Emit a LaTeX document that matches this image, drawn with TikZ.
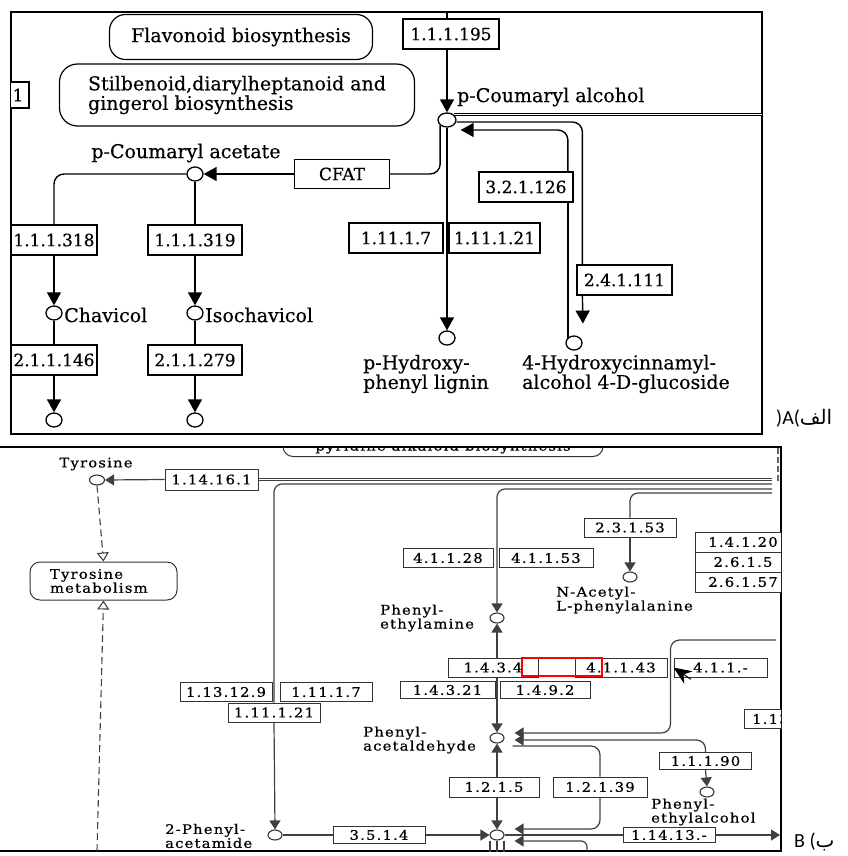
\documentclass[tikz,border=0pt]{standalone}
\usepackage{fontspec}
\setmainfont{DejaVu Serif}
\newfontfamily\keggfont{DejaVu Serif}[FakeBold=0.4]
\newfontfamily\smallkegg{DejaVu Serif}[FakeStretch=1.12,LetterSpace=9,FakeBold=0.6]
\newfontfamily\arabicfont[Script=Arabic]{DejaVu Sans}
\newfontfamily\tagfont{Carlito}
\TeXXeTstate=1
\usetikzlibrary{positioning, arrows.meta, shapes.geometric, calc}

\newcommand{\cpdfontA}{\keggfont\fontsize{19}{18}\selectfont}
\newcommand{\ecfontA}{\keggfont\fontsize{17}{17}\selectfont}
\newcommand{\cpdfontB}{\smallkegg\fontsize{13.2}{12}\selectfont}

\begin{document}
\begin{tikzpicture}[x=1pt, y=-1pt,
  ecA/.style = {draw, line width=1.2pt, fill=white, minimum width=94pt,
                minimum height=30pt, inner sep=1pt, font=\ecfontA},
  ecB/.style = {draw=black!80, line width=1pt, fill=white, minimum width=92pt,
                minimum height=19pt, inner sep=1pt, font=\cpdfontB},
  pwA/.style = {draw, line width=1.2pt, rounded corners=16pt, inner sep=0pt, font=\cpdfontA},
  pwB/.style = {draw=black!80, line width=1pt, rounded corners=10pt, inner sep=0pt,
                align=left, font=\cpdfontB},
  cpdA/.style = {draw, ellipse, line width=1.3pt, fill=white, minimum width=16pt,
                 minimum height=14pt, inner sep=0pt},
  cpdB/.style = {draw=black!80, ellipse, line width=1.1pt, fill=white, minimum width=14pt,
                 minimum height=10pt, inner sep=0pt},
  lblA/.style = {inner sep=0pt, align=left, font=\cpdfontA},
  lblB/.style = {inner sep=0pt, align=left, font=\cpdfontB},
  lnA/.style = {line width=1.4pt},
  arrA/.style = {lnA, -{Triangle[length=13pt, width=14pt]}},
  lnB/.style = {draw=black!75, line width=1.2pt},
  arrB/.style = {lnB, -{Triangle[length=9pt, width=11pt]}},
  dashB/.style = {draw=black!75, line width=1.1pt, dash pattern=on 7pt off 4pt,
                  -{Triangle[open, length=9pt, width=12pt]}},
]
\useasboundingbox (0,0) rectangle (847,856);

% ---- panel A ----
\draw[line width=1.3pt] (11,12) rectangle (762,434);
\begin{scope}
  \clip (11,12) rectangle (762,434);
  \node[pwA, minimum width=263pt, minimum height=45pt] (flav) at (241,37) {Flavonoid biosynthesis};
  \node[pwA, minimum width=355pt, minimum height=62pt, rounded corners=18pt, align=left]
    (stil) at (237,95) {Stilbenoid,diarylheptanoid and\\gingerol biosynthesis};
  \node[ecA, minimum width=22pt, minimum height=26pt] (econe) at (18,95) {1};
\end{scope}

\node[ecA, minimum width=96pt] (e195) at (451,34) {1.1.1.195};
\node[cpdA, minimum width=18pt, minimum height=14pt] (pca) at (447,120) {};
\node[lblA, anchor=west] (pcalbl) at (457,97) {p-Coumaryl alcohol};
\node[ecA, minimum width=95pt, minimum height=29pt] (cfat) at (342,174) {CFAT};
\node[cpdA] (pcac) at (195,174) {};
\node[lblA] (pcaclbl) at (186,153) {p-Coumaryl acetate};
\node[ecA, minimum width=86pt] (e318) at (54,240) {1.1.1.318};
\node[ecA] (e319) at (195,240) {1.1.1.319};
\node[cpdA] (chv) at (54,313) {};
\node[lblA, anchor=west] (chvlbl) at (64,315) {Chavicol};
\node[cpdA] (ichv) at (195,313) {};
\node[lblA, anchor=west] (ichvlbl) at (205,315) {Isochavicol};
\node[ecA, minimum width=86pt] (e2146) at (54,360) {2.1.1.146};
\node[ecA] (e2279) at (195,360) {2.1.1.279};
\node[cpdA] (chvnx) at (54,420) {};
\node[cpdA] (ichvnx) at (195,420) {};
\node[ecA] (e32) at (526,187) {3.2.1.126};
\node[ecA] (e11117) at (396,238) {1.11.1.7};
\node[ecA, minimum width=91pt] (e11121) at (494.5,238) {1.11.1.21};
\node[ecA, minimum width=95pt] (e2411) at (624.5,280) {2.4.1.111};
\node[cpdA] (phl) at (447,338) {};
\node[lblA, anchor=west] (phllbl) at (363,374) {p-Hydroxy-\\phenyl lignin};
\node[cpdA] (hcg) at (574,343) {};
\node[lblA, anchor=west] (hcglbl) at (522,374) {4-Hydroxycinnamyl-\\alcohol 4-D-glucoside};

\coordinate (inA) at (447,12);
\coordinate (outA) at (762,115);
\draw[lnA] (inA) -- (inA |- e195.north);
\draw[arrA] (e195.south -| pca) -- (pca);
\draw[line width=0.9pt, double, double distance=1.6pt] (pca.north east) -- (pca.north east -| outA);
\draw[lnA, rounded corners=10pt] ($(pca.east)+(0,2)$) -| ($(e2411.north west)+(6,0)$);
\draw[arrA, shorten >=10pt] ($(e2411.south west)+(6,0)$) -- ($(hcg.north east)+(3,-4)$);
\draw[lnA] (hcg.north west) -- (hcg.north west |- e32.south);
\draw[arrA, rounded corners=10pt] (hcg.north west |- e32.north) |- ($(pca.east)+(4,10)$);
\draw[lnA, rounded corners=10pt] (pca.south west) |- (cfat.east);
\draw[arrA] (cfat.west) -- (pcac.east);
\draw[lnA, rounded corners=10pt] (pcac.west) -| (e318.north);
\draw[lnA] (pcac.south) -- (e319.north);
\draw[arrA] (e318.south) -- (chv.north);
\draw[arrA] (e319.south) -- (ichv.north);
\draw[lnA] (chv.south) -- (e2146.north);
\draw[lnA] (ichv.south) -- (e2279.north);
\draw[arrA] (e2146.south) -- (chvnx.north);
\draw[arrA] (e2279.south) -- (ichvnx.north);
\draw[arrA] (pca.south) -- (phl.north);

\node[font=\tagfont\fontsize{20}{20}\selectfont, anchor=west, inner sep=0pt] (tagA) at (776,418)
  {)A({\arabicfont\beginR الف\endR}};

% ---- panel B ----
\draw[line width=1.3pt] (0,447) -- (781,447) -- (781,851) -- (0,851);
\begin{scope}
  \clip (0,447) rectangle (781,851);
  \node[pwB, minimum width=320pt, inner ysep=3pt, anchor=south] (tropane) at (443,457)
    {Tropane, piperidine and\\pyridine alkaloid biosynthesis};
  \node[ecB, minimum width=93pt, minimum height=21pt] (e114161) at (211.5,479.5) {1.14.16.1};
  \node[cpdB, minimum width=15pt] (tyr) at (97,480) {};
  \node[lblB] (tyrlbl) at (96,464) {Tyrosine};
  \node[pwB, minimum width=147pt, minimum height=38pt, text width=107pt] (tyrmet) at (103.5,581)
    {Tyrosine\\metabolism};
  \node[ecB] (e113129) at (226,692) {1.13.12.9};
  \node[ecB] (e11117b) at (326,692) {1.11.1.7};
  \node[ecB] (e11121b) at (274,712.5) {1.11.1.21};
  \node[cpdB] (pacm) at (275,835) {};
  \node[lblB, anchor=west] (pacmlbl) at (165,836) {2-Phenyl-\\acetamide};
  \node[ecB, minimum height=17pt] (e3514) at (379,835) {3.5.1.4};
  \node[cpdB] (pac) at (497,835) {};
  \node[ecB, minimum width=90pt] (e41128) at (448,558) {4.1.1.28};
  \node[ecB, minimum width=94pt] (e41153) at (546,558) {4.1.1.53};
  \node[cpdB] (pea) at (497,618) {};
  \node[lblB, anchor=west] (pealbl) at (380,618) {Phenyl-\\ethylamine};
  \node[ecB] (e23153) at (630,527.5) {2.3.1.53};
  \node[cpdB] (nac) at (630,577) {};
  \node[lblB, anchor=west] (naclbl) at (556,600) {N-Acetyl-\\L-phenylalanine};
  \node[ecB, minimum width=96pt, minimum height=20pt] (e14120) at (743,542) {1.4.1.20};
  \node[ecB, minimum width=96pt, minimum height=20pt] (e2615) at (743,562) {2.6.1.5};
  \node[ecB, minimum width=96pt, minimum height=20pt] (e26157) at (743,582) {2.6.1.57};
  \node[ecB, minimum width=90pt] (e1434) at (493,667.5) {1.4.3.4};
  \node[ecB] (e41143) at (621,667.5) {4.1.1.43};
  \node[ecB, minimum width=93pt] (e411x) at (720.5,667.5) {4.1.1.-};
  \node[ecB, minimum width=95pt, minimum height=17pt] (e14321) at (447.5,690) {1.4.3.21};
  \node[ecB, minimum width=90pt, minimum height=17pt] (e1492) at (545,690) {1.4.9.2};
  \node[ecB] (e113x) at (790,719) {1.13.12.-};
  \node[cpdB] (paa) at (497,738) {};
  \node[lblB, anchor=west] (paalbl) at (363,740) {Phenyl-\\acetaldehyde};
  \node[ecB, minimum height=17pt] (e11190) at (705.5,761) {1.1.1.90};
  \node[cpdB] (pet) at (707,792) {};
  \node[lblB, anchor=west] (petlbl) at (651,812) {Phenyl-\\ethylalcohol};
  \node[ecB, minimum width=90pt, minimum height=20pt] (e1215) at (494,787) {1.2.1.5};
  \node[ecB, minimum width=94pt, minimum height=20pt] (e12139) at (600,787) {1.2.1.39};
  \node[ecB, minimum height=15pt] (e11413) at (669,835) {1.14.13.-};

  \coordinate (rtB477) at (772,479);
  \coordinate (rtB484) at (772,484);
  \coordinate (rtB489) at (772,489);
  \coordinate (rtB493) at (772,493);
  \coordinate (rtB640) at (776,640);
  \coordinate (btB97) at (97,851);
  \coordinate (btB587) at (587,851);
  \coordinate (outB) at (780,835);
  \coordinate (v672) at ($(e411x.west)+(-3,0)$);
  \coordinate (paaIn1) at ($(paa.east)+(0,-5)$);
  \coordinate (paaIn2) at ($(paa.east)+(0,2)$);
  \coordinate (paaOut) at ($(paa.east)+(8,8)$);
  \coordinate (pacIn1) at ($(pac.east)+(0,-6)$);
  \coordinate (pacIn2) at ($(pac.east)+(0,6)$);

  \draw[draw=black!75, line width=0.9pt, double, double distance=1.4pt] (e114161.east) -- (e114161.east -| rtB477);
  \draw[arrB] (e114161.west) -- (tyr.east);
  \draw[dashB] (tyr.south) -- (tyrmet.north);
  \draw[dashB] (btB97) -- (tyrmet.south);
  \draw[lnB, rounded corners=8pt] (rtB484) -| (e11121b.north);
  \draw[arrB] (e11121b.south) -- (pacm.north);
  \draw[lnB] (pacm.east) -- (e3514.west);
  \draw[arrB] (e3514.east) -- (pac.west);
  \draw[arrB, rounded corners=8pt] (rtB489) -| (pea.north);
  \draw[lnB, rounded corners=8pt] (rtB493) -| (e23153.north);
  \draw[arrB] (e23153.south) -- (nac.north);
  \draw[lnB, {Triangle[length=9pt, width=11pt]}-] (pea.south) -- (pea.south |- e1434.north);
  \draw[arrB] (pea.south |- e1434.south) -- (paa.north);
  \draw[arrB, rounded corners=9pt, shorten >=10pt] (rtB640) -| (v672 |- paaIn1) -- (paaIn1);
  \draw[arrB, rounded corners=9pt, shorten >=10pt] (e11190.north) |- (paaIn2);
  \draw[arrB] (e11190.south) -- (pet.north);
  \draw[lnB, rounded corners=9pt] (paaOut) -| (e12139.north);
  \draw[arrB, rounded corners=9pt, shorten >=10pt] (e12139.south) |- (pacIn1);
  \draw[arrB, rounded corners=6pt, shorten >=10pt] (btB587) |- (pacIn2);
  \draw[lnB] (pac.east) -- (e11413.west);
  \draw[arrB] (e11413.east) -- (outB);
  \draw[arrB] (e1215.north -| paa) -- (paa.south);
  \draw[arrB] (e1215.south -| pac) -- (pac.north);
  \foreach \dx in {-7,0,7}
    \draw[lnB] ($(pac.south)+(\dx,0)$) -- ($(pac.south)+(\dx,12)$);

  \coordinate (dshT) at (778,448);
  \coordinate (dshB) at (778,482);
  \draw[black!60, line width=2pt, dash pattern=on 6pt off 3pt] (dshT) -- (dshB);

  \node[draw=red, line width=1.8pt, minimum width=80pt, minimum height=18pt, inner sep=0pt]
    (mark) at (562,667) {};
  \coordinate (annTail) at (695,682);
  \draw[-{Stealth[length=18pt, width=15pt]}, line width=1pt, shorten <=5pt] (annTail) -- (e411x.west);
\end{scope}

\node[font=\tagfont\fontsize{20}{20}\selectfont, anchor=west, inner sep=0pt] (tagB) at (794,842)
  {B ({\arabicfont\beginR ب\endR}};
\end{tikzpicture}
\end{document}
